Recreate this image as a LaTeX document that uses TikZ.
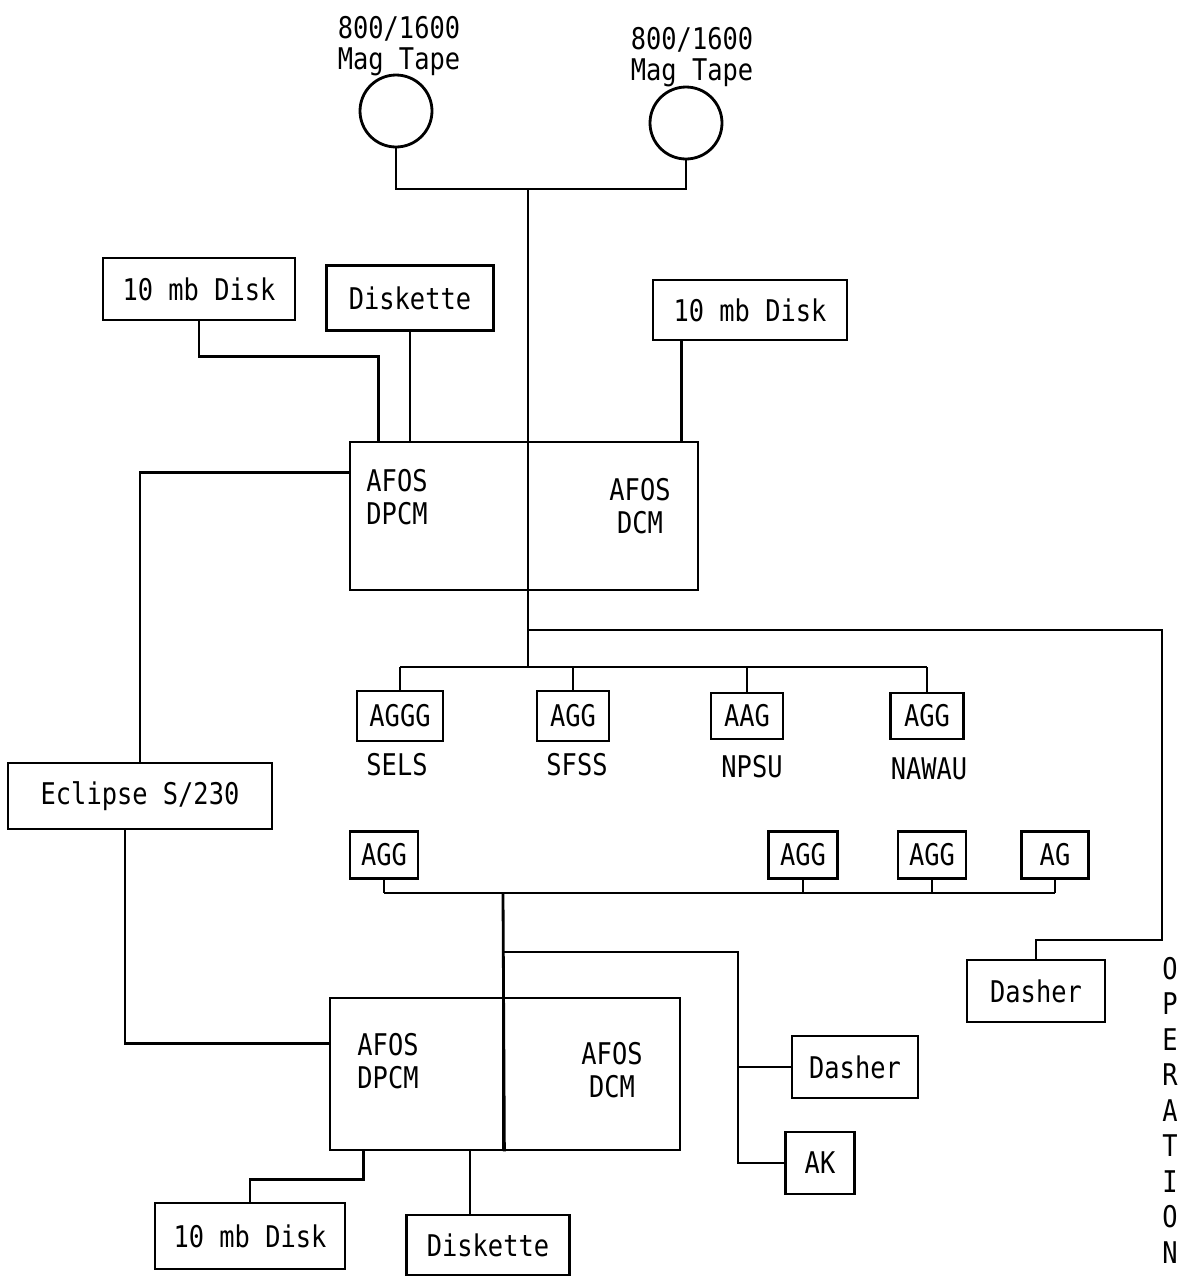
\documentclass[tikz,border=0pt]{standalone}
\usepackage{fontspec}
\usetikzlibrary{calc}
\newfontfamily\gothic[FakeStretch=0.85]{DejaVu Sans Mono}

\begin{document}
\begin{tikzpicture}[
  x=0.02cm, y=-0.02cm,
  line width=1.6pt,
  every node/.style={font=\gothic\fontsize{17}{19}\selectfont},
  unit/.style={rectangle, draw, inner sep=0pt},
  tape/.style={circle, draw, minimum size=1.44cm, inner sep=0pt},
  tag/.style={align=center, inner sep=0pt},
  tapetag/.style={tag, font=\gothic\fontsize{17}{17.5}\selectfont}
]
  \useasboundingbox (0,0) rectangle (1184,1279);

  % mag tapes
  \node[tape] (tapeL) at (396,111) {};
  \node[tape] (tapeR) at (686,123) {};
  \node[tapetag] (tapeLtxt) at (399,46) {800/1600\\Mag Tape};
  \node[tapetag] (tapeRtxt) at (692,57) {800/1600\\Mag Tape};

  % upper station
  \node[unit, minimum width=3.84cm, minimum height=1.24cm] (diskT) at (199,289) {10 mb Disk};
  \node[unit, minimum width=3.34cm, minimum height=1.3cm] (disketteT) at (410,298) {Diskette};
  \node[unit, minimum width=3.88cm, minimum height=1.2cm] (diskR) at (750,310) {10 mb Disk};
  \node[unit, minimum width=3.56cm, minimum height=2.96cm] (dpcmT) at (439,516) {};
  \node[unit, minimum width=3.4cm, minimum height=2.96cm] (dcmT) at (613,516) {};
  \node[tag] (dpcmTtxt) at (397,497) {AFOS\\DPCM};
  \node[tag] (dcmTtxt) at (640,506) {AFOS\\DCM};

  \node[unit, minimum width=5.28cm, minimum height=1.32cm] (eclipse) at (140,796) {Eclipse S/230};

  % terminals
  \node[unit, minimum width=1.72cm, minimum height=1cm] (sels) at (400,716) {AGGG};
  \node[unit, minimum width=1.44cm, minimum height=1cm] (sfss) at (573,716) {AGG};
  \node[unit, minimum width=1.44cm, minimum height=0.92cm] (npsu) at (747,716) {AAG};
  \node[unit, minimum width=1.46cm, minimum height=0.92cm] (nawau) at (927,716) {AGG};
  \node[tag] (selsTxt) at (397,765) {SELS};
  \node[tag] (sfssTxt) at (577,765) {SFSS};
  \node[tag] (npsuTxt) at (752,767) {NPSU};
  \node[tag] (nawauTxt) at (929,769) {NAWAU};

  \node[unit, minimum width=1.36cm, minimum height=0.94cm] (aggW) at (384,855) {AGG};
  \node[unit, minimum width=1.38cm, minimum height=0.94cm] (aggA) at (803,855) {AGG};
  \node[unit, minimum width=1.36cm, minimum height=0.94cm] (aggB) at (932,855) {AGG};
  \node[unit, minimum width=1.34cm, minimum height=0.94cm] (agC) at (1055,855) {AG};

  % lower station
  \node[unit, minimum width=3.46cm, minimum height=3.04cm] (dpcmB) at (416.5,1074) {};
  \node[unit, minimum width=3.54cm, minimum height=3.04cm] (dcmB) at (591.5,1074) {};
  \node[tag] (dpcmBtxt) at (388,1061) {AFOS\\DPCM};
  \node[tag] (dcmBtxt) at (612,1070) {AFOS\\DCM};
  \node[unit, minimum width=2.52cm, minimum height=1.24cm] (dasherB) at (855,1067) {Dasher};
  \node[unit, minimum width=1.38cm, minimum height=1.24cm] (ak) at (820,1163) {AK};
  \node[unit, minimum width=2.76cm, minimum height=1.24cm] (dasherR) at (1036,991) {Dasher};
  \node[unit, minimum width=3.8cm, minimum height=1.32cm] (diskB) at (250,1236) {10 mb Disk};
  \node[unit, minimum width=3.26cm, minimum height=1.2cm] (disketteB) at (488,1245) {Diskette};

  \node[tag, font=\gothic\fontsize{17}{20.2}\selectfont] (oper) at (1170,1110) {O\\P\\E\\R\\A\\T\\I\\O\\N};

  % connectors
  \coordinate (busT) at (528,189);
  \coordinate (jA) at (528,630);
  \coordinate (jB) at (528,667);
  \coordinate (rc) at (1162,940);
  \coordinate (jC) at (503,893);
  \coordinate (jD) at (503,952);
  \coordinate (tp) at (738,952);
  \coordinate (dr) at ($(diskR.south west)+(30,0)$);
  \coordinate (ew) at ($(eclipse.south)+(-15,0)$);
  \coordinate (dl) at ($(dpcmB.south west)+(35,0)$);
  \coordinate (kb) at ($(disketteB.north)+(-18,0)$);

  \draw (tapeL.south) |- (busT) -| (tapeR.south);
  \draw (busT) -- (jB);
  \draw (diskT.south) -- ++(0,35) -| ($(dpcmT.north west)+(30,0)$);
  \draw (disketteT.south) -- (disketteT.south |- dpcmT.north);
  \draw (dr) -- (dr |- dcmT.north);
  \draw ($(dpcmT.north west)+(0,32)$) -| (eclipse.north);
  \draw (ew) |- ($(dpcmB.north west)+(0,47)$);
  \draw (jA) -| (rc) -| (dasherR.north);

  \draw (sels.north |- jB) -- (nawau.north |- jB);
  \foreach \t in {sels,sfss,npsu,nawau}
    \draw (\t.north) -- (\t.north |- jB);
  \draw (aggW.south |- jC) -- (agC.south |- jC);
  \foreach \t in {aggW,aggA,aggB,agC}
    \draw (\t.south) -- (\t.south |- jC);

  \draw (jC) -- (dpcmB.south east);
  \draw (jD) -- (tp) |- (ak.west);
  \draw (tp |- dasherB.west) -- (dasherB.west);
  \draw (dl) -- ++(0,28) -| (diskB.north);
  \draw (kb) -- (kb |- dpcmB.south);
\end{tikzpicture}
\end{document}
